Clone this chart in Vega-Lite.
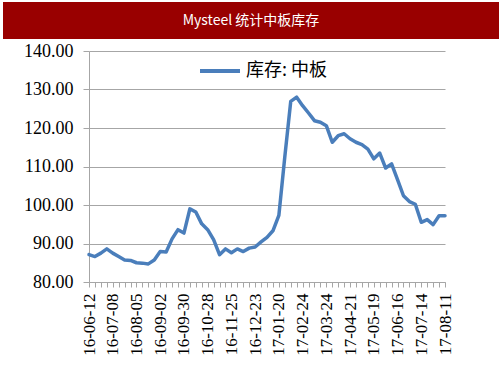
{
  "$schema": "https://vega.github.io/schema/vega-lite/v6.json",
  "background": "white",
  "padding": {"left": 3, "top": 2, "right": 0, "bottom": 0},
  "autosize": {"type": "pad"},
  "spacing": 3,
  "config": {
    "font": "Times New Roman",
    "axis": {"labelFont": "Times New Roman", "labelColor": "black"}
  },
  "vconcat": [
    {
      "width": 496,
      "height": 37,
      "view": {"fill": "#990000", "stroke": null},
      "data": {"values": [{"t": "Mysteel 统计中板库存"}]},
      "mark": {"type": "text", "color": "white", "font": "Noto Sans CJK SC", "fontSize": 14, "baseline": "middle", "align": "center"},
      "encoding": {"text": {"field": "t", "type": "nominal"}}
    },
    {
      "spacing": 19,
      "resolve": {"legend": {"color": "independent"}, "scale": {"color": "independent"}},
      "hconcat": [
        {
          "width": 1,
          "height": 231,
          "view": {"stroke": null},
          "data": {"values": [{"e": ""}]},
          "mark": {"type": "text"},
          "encoding": {"text": {"field": "e", "type": "nominal"}}
        },
        {
          "width": 356,
          "height": 231,
          "view": {"stroke": null},
          "data": {"values": [
            {"d": "16-06-12", "v": 87.1, "s": "库存: 中板"},
            {"d": "16-06-17", "v": 86.6, "s": "库存: 中板"},
            {"d": "16-06-24", "v": 87.5, "s": "库存: 中板"},
            {"d": "16-07-01", "v": 88.6, "s": "库存: 中板"},
            {"d": "16-07-08", "v": 87.5, "s": "库存: 中板"},
            {"d": "16-07-15", "v": 86.6, "s": "库存: 中板"},
            {"d": "16-07-22", "v": 85.7, "s": "库存: 中板"},
            {"d": "16-07-29", "v": 85.6, "s": "库存: 中板"},
            {"d": "16-08-05", "v": 85.0, "s": "库存: 中板"},
            {"d": "16-08-12", "v": 84.9, "s": "库存: 中板"},
            {"d": "16-08-19", "v": 84.7, "s": "库存: 中板"},
            {"d": "16-08-26", "v": 85.7, "s": "库存: 中板"},
            {"d": "16-09-02", "v": 87.9, "s": "库存: 中板"},
            {"d": "16-09-09", "v": 87.8, "s": "库存: 中板"},
            {"d": "16-09-16", "v": 91.2, "s": "库存: 中板"},
            {"d": "16-09-23", "v": 93.6, "s": "库存: 中板"},
            {"d": "16-09-30", "v": 92.7, "s": "库存: 中板"},
            {"d": "16-10-07", "v": 99.0, "s": "库存: 中板"},
            {"d": "16-10-14", "v": 98.2, "s": "库存: 中板"},
            {"d": "16-10-21", "v": 95.1, "s": "库存: 中板"},
            {"d": "16-10-28", "v": 93.6, "s": "库存: 中板"},
            {"d": "16-11-04", "v": 91.0, "s": "库存: 中板"},
            {"d": "16-11-11", "v": 87.1, "s": "库存: 中板"},
            {"d": "16-11-18", "v": 88.6, "s": "库存: 中板"},
            {"d": "16-11-25", "v": 87.6, "s": "库存: 中板"},
            {"d": "16-12-02", "v": 88.6, "s": "库存: 中板"},
            {"d": "16-12-09", "v": 87.9, "s": "库存: 中板"},
            {"d": "16-12-16", "v": 88.8, "s": "库存: 中板"},
            {"d": "16-12-23", "v": 89.1, "s": "库存: 中板"},
            {"d": "16-12-30", "v": 90.4, "s": "库存: 中板"},
            {"d": "17-01-06", "v": 91.6, "s": "库存: 中板"},
            {"d": "17-01-13", "v": 93.3, "s": "库存: 中板"},
            {"d": "17-01-20", "v": 97.3, "s": "库存: 中板"},
            {"d": "17-02-03", "v": 112.5, "s": "库存: 中板"},
            {"d": "17-02-10", "v": 126.9, "s": "库存: 中板"},
            {"d": "17-02-17", "v": 128.0, "s": "库存: 中板"},
            {"d": "17-02-24", "v": 125.8, "s": "库存: 中板"},
            {"d": "17-03-03", "v": 123.9, "s": "库存: 中板"},
            {"d": "17-03-10", "v": 121.9, "s": "库存: 中板"},
            {"d": "17-03-17", "v": 121.5, "s": "库存: 中板"},
            {"d": "17-03-24", "v": 120.6, "s": "库存: 中板"},
            {"d": "17-03-31", "v": 116.3, "s": "库存: 中板"},
            {"d": "17-04-07", "v": 118.0, "s": "库存: 中板"},
            {"d": "17-04-14", "v": 118.5, "s": "库存: 中板"},
            {"d": "17-04-21", "v": 117.2, "s": "库存: 中板"},
            {"d": "17-04-28", "v": 116.3, "s": "库存: 中板"},
            {"d": "17-05-05", "v": 115.7, "s": "库存: 中板"},
            {"d": "17-05-12", "v": 114.5, "s": "库存: 中板"},
            {"d": "17-05-19", "v": 112.0, "s": "库存: 中板"},
            {"d": "17-05-26", "v": 113.5, "s": "库存: 中板"},
            {"d": "17-06-02", "v": 109.6, "s": "库存: 中板"},
            {"d": "17-06-09", "v": 110.7, "s": "库存: 中板"},
            {"d": "17-06-16", "v": 106.6, "s": "库存: 中板"},
            {"d": "17-06-23", "v": 102.4, "s": "库存: 中板"},
            {"d": "17-06-30", "v": 100.9, "s": "库存: 中板"},
            {"d": "17-07-07", "v": 100.2, "s": "库存: 中板"},
            {"d": "17-07-14", "v": 95.5, "s": "库存: 中板"},
            {"d": "17-07-21", "v": 96.2, "s": "库存: 中板"},
            {"d": "17-07-28", "v": 94.9, "s": "库存: 中板"},
            {"d": "17-08-04", "v": 97.2, "s": "库存: 中板"},
            {"d": "17-08-11", "v": 97.2, "s": "库存: 中板"}
          ]},
          "mark": {"type": "line", "strokeWidth": 3.5, "strokeJoin": "round", "strokeCap": "round"},
          "encoding": {
            "x": {
              "field": "d", "type": "ordinal", "sort": null,
              "scale": {"type": "point", "padding": 0},
              "axis": {
                "title": null,
                "domainColor": "#A6A6A6",
                "tickColor": "#A6A6A6",
                "tickSize": 5,
                "labelAngle": -90,
                "labelAlign": "right",
                "labelBaseline": "middle",
                "labelPadding": 6,
                "labelFont": "Times New Roman",
                "labelFontSize": 17,
                "labelColor": "black",
                "labelOverlap": false,
                "labelBound": false,
                "labelFlush": false,
                "grid": false,
                "labelExpr": "indexof(['16-06-12','16-07-08','16-08-05','16-09-02','16-09-30','16-10-28','16-11-25','16-12-23','17-01-20','17-02-24','17-03-24','17-04-21','17-05-19','17-06-16','17-07-14','17-08-11'], datum.label) >= 0 ? datum.label : ''"
              }
            },
            "y": {
              "field": "v", "type": "quantitative",
              "scale": {"domain": [80, 140], "nice": false, "zero": false},
              "axis": {
                "title": null,
                "values": [80, 90, 100, 110, 120, 130, 140],
                "format": ".2f",
                "domainColor": "#A6A6A6",
                "tickColor": "#A6A6A6",
                "gridColor": "#A6A6A6",
                "gridWidth": 1,
                "tickSize": 6,
                "labelPadding": 10,
                "labelFont": "Times New Roman",
                "labelFontSize": 18,
                "labelColor": "black"
              }
            },
            "color": {
              "field": "s", "type": "nominal",
              "scale": {"range": ["#4A7EBB"]},
              "legend": {
                "title": null,
                "orient": "none",
                "legendX": 109,
                "legendY": -2,
                "padding": 0,
                "symbolType": "stroke",
                "symbolSize": 1600,
                "symbolStrokeWidth": 4,
                "labelFont": "Noto Sans CJK SC",
                "labelFontSize": 18,
                "labelColor": "black",
                "labelOffset": 4
              }
            }
          }
        }
      ]
    }
  ]
}
